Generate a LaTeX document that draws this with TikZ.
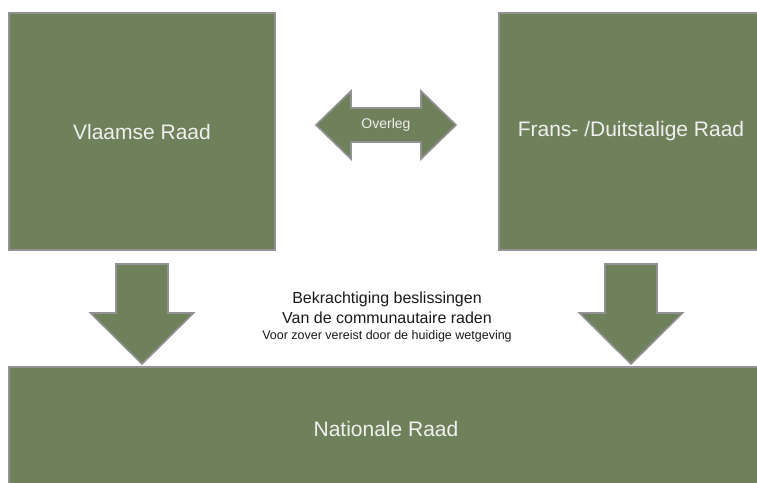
\documentclass[tikz,border=0pt]{standalone}
\usepackage{fontspec}
\setmainfont{Liberation Sans}
\usetikzlibrary{positioning}
\definecolor{raadgroen}{RGB}{110,129,90}
\definecolor{raadrand}{RGB}{146,146,150}
\tikzset{
  raad/.style={draw=raadrand,line width=2pt,fill=raadgroen,text=white!94!black,
    font=\fontsize{21}{25}\selectfont,inner sep=0pt},
  blokpijl/.style={draw=raadrand,line width=1.6pt,fill=raadgroen,line join=miter},
  uitleg/.style={anchor=base,text=black!90,inner sep=0pt}
}
\begin{document}
\begin{tikzpicture}[x=1pt,y=-1pt]
  \useasboundingbox (0,0) rectangle (757,482);
  % de drie raden
  \node[raad,minimum width=266pt,minimum height=237pt] (vr) at (142,131.5) {Vlaamse Raad};
  \node[raad,minimum width=264pt,minimum height=237pt] (fr) at (631,131.5) {Frans- /Duitstalige Raad};
  \node[raad,minimum width=754pt,minimum height=124pt] (nr) at (386,429) {Nationale Raad};
  % overleg
  \draw[blokpijl] (316,125) -- (351,91) -- (351,108) -- (421,108) -- (421,91) -- (456,125)
    -- (421,159) -- (421,142) -- (351,142) -- (351,159) -- cycle;
  \node[text=white!94!black,font=\fontsize{14}{17}\selectfont] (ov) at (386,125) {Overleg};
  % bekrachtiging
  \foreach \b in {vr,fr}
    \draw[blokpijl] ([shift={(-26,13)}]\b.south) -- ++(52,0) -- ++(0,49) -- ++(25.5,0)
      -- ++(-51.5,51) -- ++(-51.5,-51) -- ++(25.5,0) -- cycle;
  \node[uitleg,font=\fontsize{16}{19}\selectfont] (bk1) at (387,303) {Bekrachtiging beslissingen};
  \node[uitleg,font=\fontsize{16}{19}\selectfont] (bk2) at (387,323) {Van de communautaire raden};
  \node[uitleg,font=\fontsize{12.5}{15}\selectfont] (bk3) at (387,339) {Voor zover vereist door de huidige wetgeving};
\end{tikzpicture}
\end{document}
